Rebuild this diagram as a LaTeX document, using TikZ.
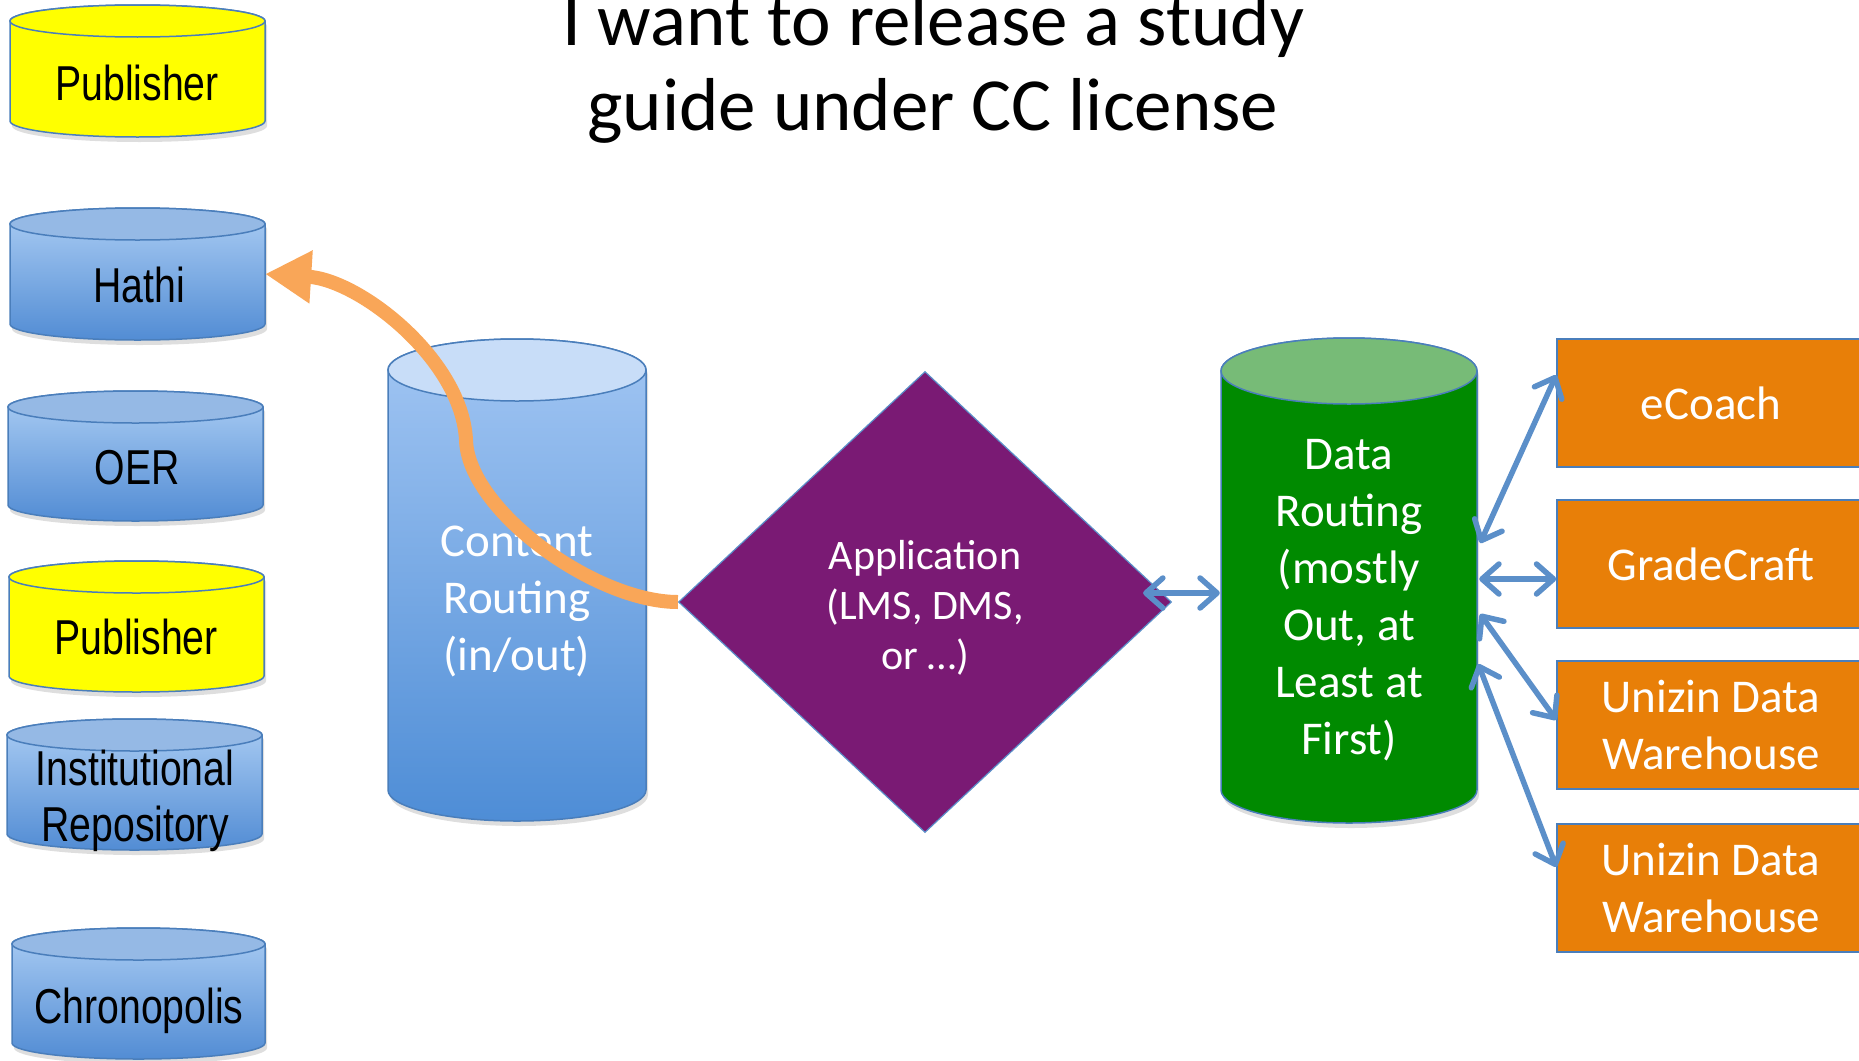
\documentclass[tikz,border=0pt]{standalone}
\usepackage{fontspec}
\setmainfont{Carlito}
\newfontfamily\arialn[FakeStretch=0.8]{Liberation Sans}
\usetikzlibrary{arrows.meta,shapes.geometric,calc}
\definecolor{bord}{RGB}{74,126,187}
\definecolor{arrblue}{RGB}{91,143,201}
\definecolor{capblue}{RGB}{149,185,229}
\definecolor{bodyT}{RGB}{172,206,244}
\definecolor{bodyB}{RGB}{82,140,212}
\definecolor{ccap}{RGB}{200,221,248}
\definecolor{cbodyT}{RGB}{162,198,243}
\definecolor{cbodyB}{RGB}{78,141,214}
\definecolor{gbody}{RGB}{0,138,0}
\definecolor{gcap}{RGB}{119,187,119}
\definecolor{purp}{RGB}{122,26,116}
\definecolor{boxor}{RGB}{232,127,8}
\definecolor{arror}{RGB}{249,166,88}
\definecolor{yel}{RGB}{255,255,0}

% #1 name, #2 x1, #3 x2, #4 ytop, #5 ybottom, #6 ry, #7 body fill options, #8 cap colour
\newcommand{\mycyl}[8]{%
  \pgfmathsetmacro{\cylcx}{(#2+#3)/2}%
  \pgfmathsetmacro{\cylrx}{(#3-#2)/2}%
  \pgfmathsetmacro{\cylcy}{(#4+#5)/2}%
  \pgfmathsetmacro{\cylh}{#5-#4}%
  \pgfmathsetmacro{\cylw}{#3-#2}%
  \fill[black,opacity=0.13,shift={(2,5)}] (#2,#4) -- (#2,#5)
     arc[start angle=180,end angle=360,x radius=\cylrx pt,y radius=#6pt] -- (#3,#4)
     arc[start angle=0,end angle=180,x radius=\cylrx pt,y radius=#6pt] -- cycle;
  \path[#7,draw=bord,line width=1.5pt] (#2,#4) -- (#2,#5)
     arc[start angle=180,end angle=360,x radius=\cylrx pt,y radius=#6pt] -- (#3,#4)
     arc[start angle=0,end angle=180,x radius=\cylrx pt,y radius=#6pt] -- cycle;
  \draw[fill=#8,draw=bord,line width=1.5pt] (\cylcx,#4) ellipse [x radius=\cylrx pt,y radius=#6pt];
  \node[inner sep=0pt,minimum width=\cylw pt,minimum height=\cylh pt] (#1) at (\cylcx,\cylcy) {};
}

\tikzset{
  lbl/.style={font=\arialn\fontsize{49}{56}\selectfont,text height=35pt,text depth=0pt,inner sep=0pt},
  lbltwo/.style={font=\arialn\fontsize{49}{56}\selectfont,align=center,inner sep=0pt},
  wtxt/.style={text=white,align=center,inner sep=0pt,font=\fontsize{47}{57}\selectfont},
  obox/.style={rectangle,fill=boxor,draw=bord,line width=1.5pt,text=white,align=center,
     inner sep=0pt,minimum width=308pt,minimum height=128pt,font=\fontsize{47}{57}\selectfont},
  barrow/.style={draw=arrblue,line width=5.5pt,
     {Straight Barb[length=17pt,width=30pt,round]}-{Straight Barb[length=17pt,width=30pt,round]}},
  ttl/.style={font=\fontsize{75}{86}\selectfont,inner sep=0pt,anchor=base},
}

\begin{document}
\begin{tikzpicture}[x=1pt,y=-1pt]
\useasboundingbox[fill=white] (0,0) rectangle (1859,1060);

% title
\node[ttl] (title1) at (933,45) {I want to release a study};
\node[ttl] (title2) at (933,130) {guide under CC license};

% left column
\mycyl{pubA}{10}{265}{21}{121}{16}{fill=yel}{yel}
\node[lbl] (pubAt) at (137,82.5) {Publisher};
\mycyl{hathi}{10}{265}{224}{324}{16}{top color=bodyT,bottom color=bodyB}{capblue}
\node[lbl] (hathit) at (139,284.5) {Hathi};
\mycyl{oer}{8}{263}{407}{505}{16}{top color=bodyT,bottom color=bodyB}{capblue}
\node[lbl] (oert) at (137,467) {OER};
\mycyl{pubB}{9}{264}{577}{676}{16}{fill=yel}{yel}
\node[lbl] (pubBt) at (136,637) {Publisher};
\mycyl{inst}{7}{262}{735}{834}{16}{top color=bodyT,bottom color=bodyB}{capblue}
\node[lbltwo] (instt) at (135,801) {Institutional\\Repository};
\mycyl{chron}{12}{265}{944}{1043}{16}{top color=bodyT,bottom color=bodyB}{capblue}
\node[lbl] (chront) at (139,1006) {Chronopolis};

% content routing
\mycyl{content}{388}{646}{370}{790}{31}{top color=cbodyT,bottom color=cbodyB}{ccap}
\node[wtxt] (contentt) at (517,601) {Content\\Routing\\(in/out)};

% application diamond
\node[diamond,fill=purp,draw=arrblue,line width=1.2pt,inner sep=0pt,aspect=1.07,
      minimum width=493pt,minimum height=461pt] (app) at (925,602) {};
\node[wtxt,font=\fontsize{42}{50}\selectfont] (appt) at (925,608) {Application\\(LMS, DMS,\\or \dots)};

% data routing
\mycyl{data}{1221}{1477}{371}{790}{33}{fill=gbody}{gcap}
\node[wtxt] (datat) at (1349,600) {Data\\Routing\\(mostly\\Out, at\\Least at\\First)};

% boxes
\node[obox] (ecoach) at (1711,403) {eCoach};
\node[obox] (grade) at (1711,564) {GradeCraft};
\node[obox] (unizA) at (1711,725) {Unizin Data\\Warehouse};
\node[obox] (unizB) at (1711,888) {Unizin Data\\Warehouse};

% connectors
\draw[barrow] ([xshift=-29pt,yshift=9pt]app.east) -- ([xshift=-1pt,yshift=-12.5pt]data.west);
\draw[barrow] ([xshift=3pt,yshift=37.5pt]data.east) -- ([yshift=28pt]ecoach.west);
\draw[barrow] ([xshift=2pt,yshift=1.5pt]data.east) -- ([yshift=-15pt]grade.west);
\draw[barrow] ([xshift=3pt,yshift=-33.5pt]data.east) -- ([yshift=5pt]unizA.west);
\draw[barrow] ([xshift=1pt,yshift=-83.5pt]data.east) -- ([yshift=21pt]unizB.west);

% orange curved arrow
\draw[arror,line width=14pt,-{Triangle[length=46pt,width=50pt]}]
  (app.west) .. controls (595,602) and (468,510) .. (466,440)
  .. controls (462,360) and (360,280) .. (hathi.east);
\end{tikzpicture}
\end{document}
